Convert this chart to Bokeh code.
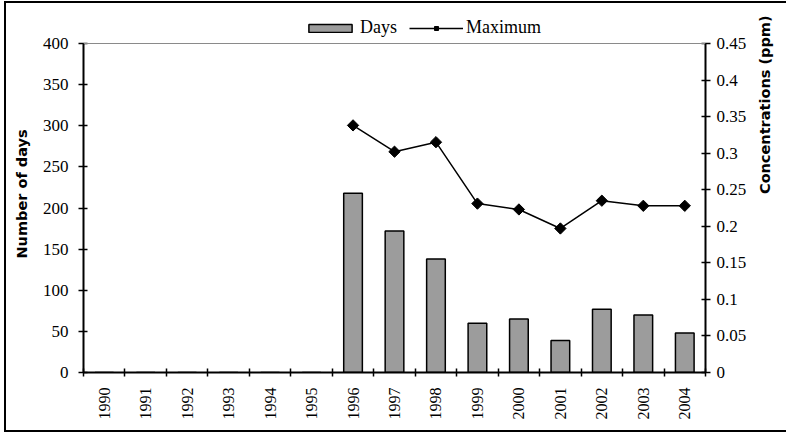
from bokeh.plotting import figure
from bokeh.models import (Range1d, LinearAxis, FixedTicker, Legend, LegendItem,
                          ColumnDataSource, InlineStyleSheet, Span)
from bokeh.embed import file_html
from bokeh.resources import INLINE

years = ["1990", "1991", "1992", "1993", "1994", "1995", "1996", "1997",
         "1998", "1999", "2000", "2001", "2002", "2003", "2004"]
days = [0, 0, 0, 0, 0, 0, 218, 172, 138, 60, 65, 39, 77, 70, 48]
max_years = ["1996", "1997", "1998", "1999", "2000", "2001", "2002", "2003", "2004"]
maximum = [0.338, 0.302, 0.315, 0.231, 0.223, 0.197, 0.235, 0.228, 0.228]
left_ticks = [0, 50, 100, 150, 200, 250, 300, 350, 400]
right_ticks = [0, 0.05, 0.1, 0.15, 0.2, 0.25, 0.3, 0.35, 0.4, 0.45]

LEFT_MAX, RIGHT_MAX = 400, 0.45
pos = {y: i + 0.5 for i, y in enumerate(years)}
bar_src = ColumnDataSource(dict(x=[pos[y] for y in years], top=days))
line_src = ColumnDataSource(dict(x=[pos[y] for y in max_years], y=maximum))

frame_css = InlineStyleSheet(css="""
:host::after {
  content: "";
  position: absolute;
  left: 4px; top: 1px; width: 800px; height: 427px;
  border-left: 2px solid black;
  border-top: 2px solid black;
  border-bottom: 2px solid black;
  pointer-events: none;
  z-index: 100;
}
""")

# plot area: value 400 sits 28 px below the top of the drawing frame (room for legend)
W, H = 786, 434
top_px, axis_top_px, bottom_px = 15, 43, 372
extend = (bottom_px - top_px) / (bottom_px - axis_top_px)

p = figure(width=W, height=H, output_backend="svg", toolbar_location=None,
           x_range=Range1d(0, len(years)),
           y_range=Range1d(0, LEFT_MAX * extend),
           min_border_left=83, min_border_right=81, min_border_top=top_px,
           min_border_bottom=H - bottom_px, stylesheets=[frame_css])
p.background_fill_color = "white"
p.border_fill_color = "white"
p.outline_line_color = None
p.xgrid.visible = False
p.ygrid.visible = False

p.extra_y_ranges = {"ppm": Range1d(0, RIGHT_MAX * extend)}

p.add_layout(Span(location=LEFT_MAX, dimension="width", line_color="#8a8a8a",
                  line_width=1))

bars = p.vbar(x="x", top="top", width=0.45, source=bar_src,
              fill_color="#9c9c9c", line_color="black", line_width=1.5)
line = p.line(x="x", y="y", source=line_src, y_range_name="ppm",
              line_color="black", line_width=1.5)
marks = p.scatter(x="x", y="y", source=line_src, y_range_name="ppm",
                  marker="square", angle=0.785, size=8,
                  fill_color="black", line_color="black")

tick_font = "Liberation Serif"
title_font = "DejaVu Sans"

# x axis
xa = p.xaxis[0]
xa.ticker = FixedTicker(ticks=[pos[y] for y in years],
                        minor_ticks=list(range(len(years) + 1)))
xa.major_label_overrides = {pos[y]: y for y in years}
xa.major_label_orientation = 1.5708
xa.major_tick_line_color = None
xa.minor_tick_in = 4
xa.minor_tick_out = 4
xa.minor_tick_line_color = "black"
xa.minor_tick_line_width = 1.5
xa.axis_line_width = 2
xa.axis_line_color = "black"
xa.major_label_text_font = tick_font
xa.major_label_text_font_size = "16px"
xa.major_label_text_color = "black"
xa.major_label_standoff = 9

# left axis
ya = p.yaxis[0]
ya.ticker = FixedTicker(ticks=left_ticks)
ya.bounds = (0, LEFT_MAX)
ya.minor_tick_line_color = None
ya.major_tick_in = 4
ya.major_tick_out = 5
ya.major_tick_line_width = 1.5
ya.major_tick_line_color = "black"
ya.axis_line_width = 2
ya.axis_line_color = "black"
ya.major_label_text_font = tick_font
ya.major_label_text_font_size = "17px"
ya.major_label_text_color = "black"
ya.major_label_standoff = 10
ya.axis_label = "Number of days"
ya.axis_label_text_font = title_font
ya.axis_label_text_font_style = "bold"
ya.axis_label_text_font_size = "14.5px"
ya.axis_label_text_color = "black"
ya.axis_label_standoff = 10

# right axis
ra = LinearAxis(y_range_name="ppm", ticker=FixedTicker(ticks=right_ticks))
ra.bounds = (0, RIGHT_MAX)
ra.minor_tick_line_color = None
ra.major_tick_in = 4
ra.major_tick_out = 5
ra.major_tick_line_width = 1.5
ra.major_tick_line_color = "black"
ra.axis_line_width = 2
ra.axis_line_color = "black"
ra.major_label_text_font = tick_font
ra.major_label_text_font_size = "17px"
ra.major_label_text_color = "black"
ra.major_label_standoff = 6
ra.major_label_overrides = {t: ("%g" % t) for t in right_ticks}
ra.axis_label = "Concentrations (ppm)"
ra.axis_label_text_font = title_font
ra.axis_label_text_font_style = "bold"
ra.axis_label_text_font_size = "14.5px"
ra.axis_label_text_color = "black"
ra.axis_label_orientation = 1.5708
ra.axis_label_standoff = 16
p.add_layout(ra, "right")

legend = Legend(items=[LegendItem(label="Days", renderers=[bars]),
                       LegendItem(label="Maximum", renderers=[line, marks])],
                orientation="horizontal", location=(220, 334),
                glyph_width=54, glyph_height=10, label_standoff=3, spacing=12,
                padding=0, margin=0, label_height=16,
                label_text_font=tick_font, label_text_font_size="18px",
                label_text_color="black",
                border_line_color=None, background_fill_alpha=0)
p.add_layout(legend, "center")

open("out.html", "w").write(file_html(p, INLINE))
